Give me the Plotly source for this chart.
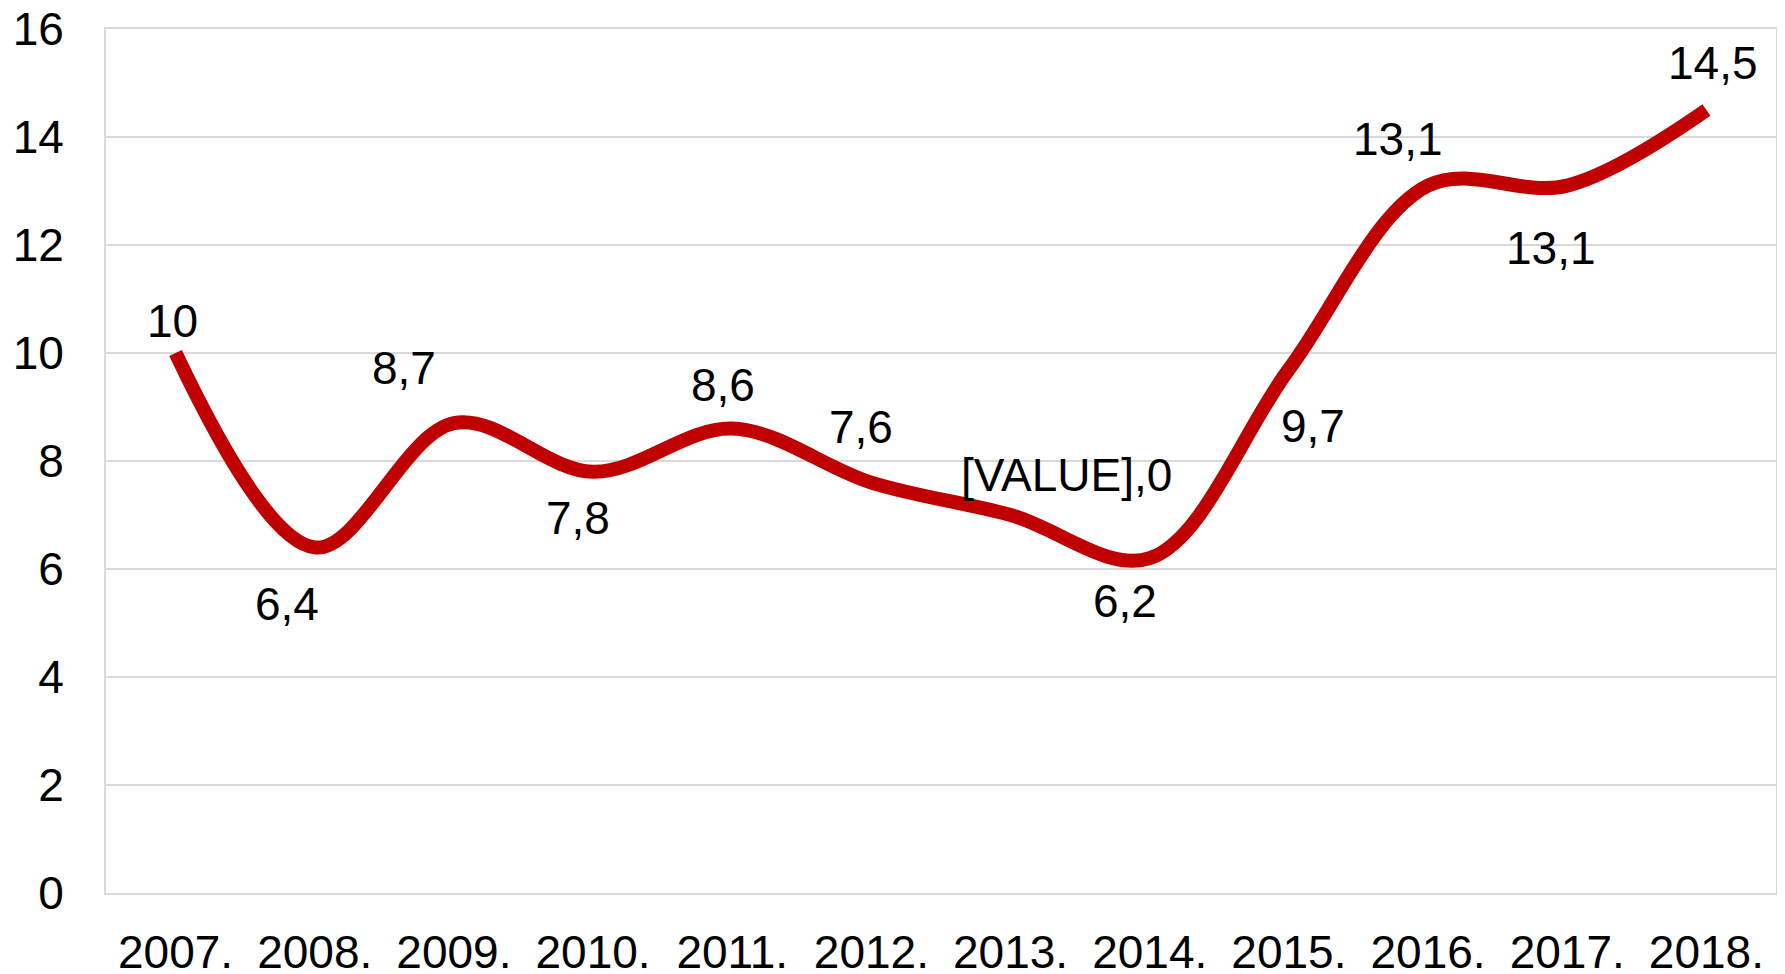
import plotly.graph_objects as go

years = ["2007.", "2008.", "2009.", "2010.", "2011.", "2012.",
         "2013.", "2014.", "2015.", "2016.", "2017.", "2018."]
values = [10, 6.4, 8.7, 7.8, 8.6, 7.6, 7.0, 6.2, 9.7, 13.1, 13.1, 14.5]
labels = ["10", "6,4", "8,7", "7,8", "8,6", "7,6", "[VALUE],0", "6,2",
          "9,7", "13,1", "13,1", "14,5"]
y_ticks = [0, 2, 4, 6, 8, 10, 12, 14, 16]

# label offsets in pixels (dx, dy up)
label_dx = [-3, -28, -50, -15, -9, -10, 56, -25, 24, -30, -16, 7]
label_dy = [32, -57, 55, -46, 44, 56, 40, -43, -57, 47, -62, 47]

FONT = "Liberation Sans, Arial, sans-serif"
xi = list(range(len(years)))

fig = go.Figure()
fig.add_trace(go.Scatter(
    x=xi, y=values, mode="lines",
    line=dict(color="#C00000", width=14, shape="spline", smoothing=1.0),
    hoverinfo="skip", showlegend=False,
))

for i, (v, t) in enumerate(zip(values, labels)):
    fig.add_annotation(x=xi[i], y=v, text=t, showarrow=False,
                       xshift=label_dx[i], yshift=label_dy[i],
                       font=dict(family=FONT, size=46, color="#000000"))

# page body has an 8px default margin, so the figure is sized to fit
fig.update_layout(
    width=1777, height=966,
    margin=dict(l=98, r=9, t=21, b=81, autoexpand=False),
    paper_bgcolor="white", plot_bgcolor="white",
    font=dict(family=FONT, size=46, color="#000000"),
)
fig.update_xaxes(
    range=[-0.5, len(years) - 0.5],
    tickvals=xi, ticktext=years, automargin=False,
    showgrid=False, zeroline=False,
    showline=True, linecolor="#d9d9d9", linewidth=2, mirror=True,
    ticks="", ticklabelstandoff=18, ticklabeloverflow="allow",
    tickfont=dict(family=FONT, size=46, color="#000000"),
)
fig.update_yaxes(
    range=[0, 16], tickvals=y_ticks, automargin=False,
    showgrid=True, gridcolor="#d9d9d9", gridwidth=1.5, zeroline=False,
    showline=True, linecolor="#d9d9d9", linewidth=2, mirror=True,
    ticks="", ticklabelstandoff=31, ticklabeloverflow="allow",
    tickfont=dict(family=FONT, size=46, color="#000000"),
)

fig.write_html("out.html")
